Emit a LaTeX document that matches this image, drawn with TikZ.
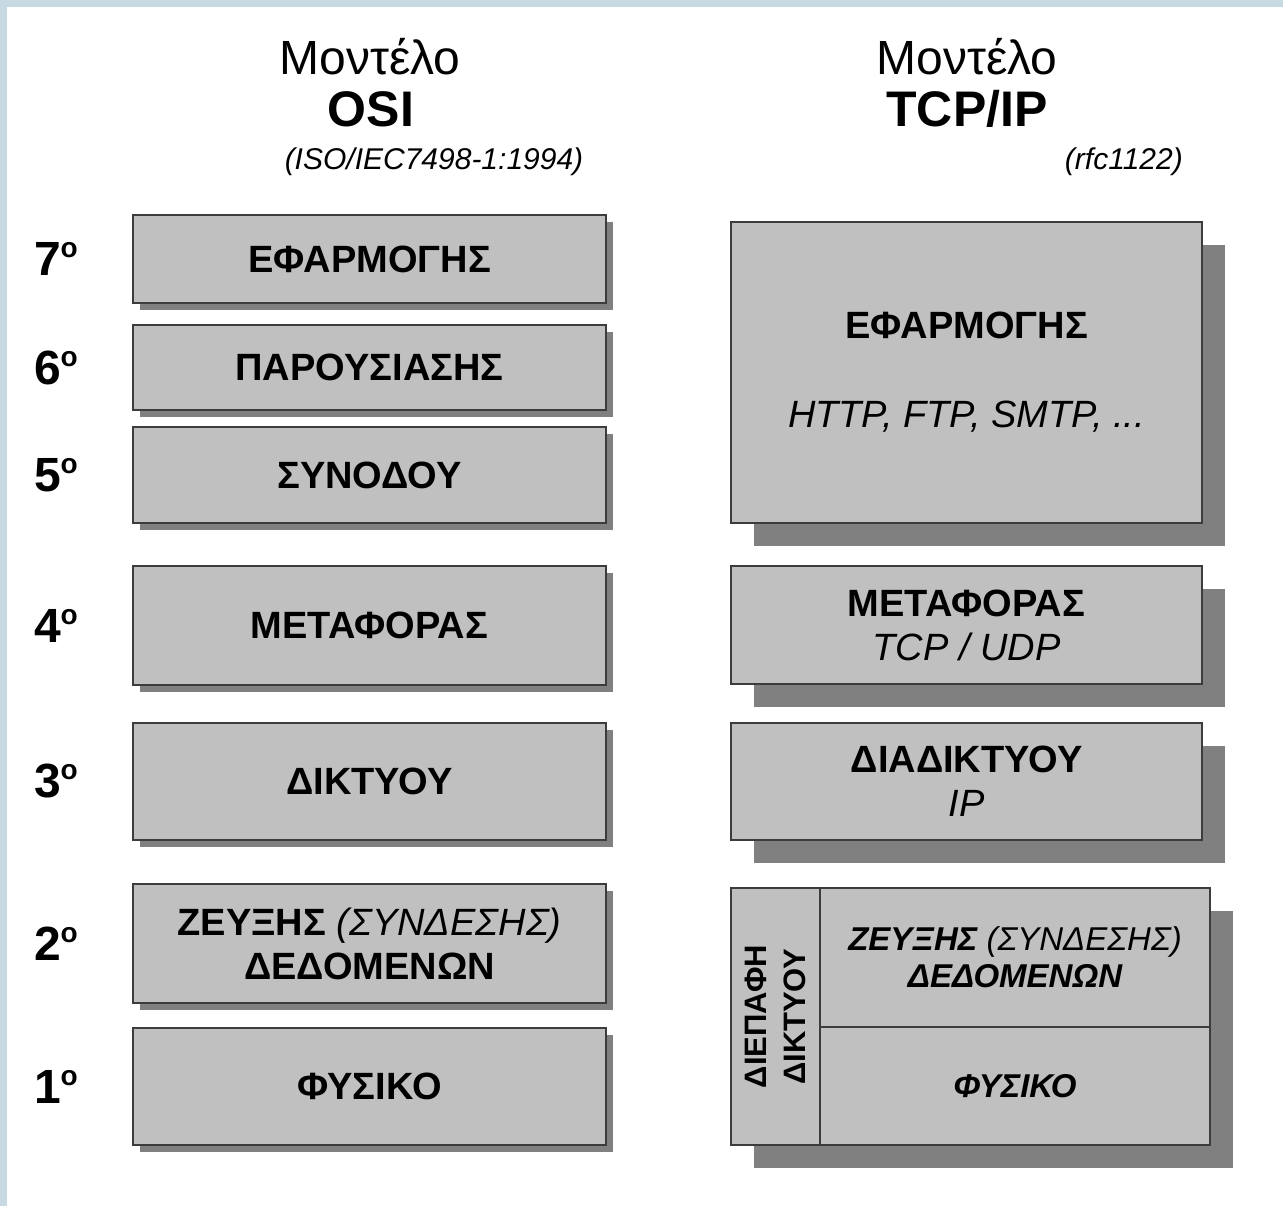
\documentclass[tikz,border=0pt]{standalone}
\usepackage{fontspec}
\setmainfont{Liberation Sans}
\usetikzlibrary{positioning,shadows}

\definecolor{frameblue}{HTML}{C8DAE1}
\definecolor{boxgray}{HTML}{C0C0C0}
\definecolor{shadowgray}{HTML}{808080}
\definecolor{edgegray}{HTML}{3C3C3C}

\newcommand{\ordo}{\raisebox{18pt}{\fontsize{28}{28}\selectfont o}}

\begin{document}
\begin{tikzpicture}[x=1pt, y=1pt,
            layer/.style   = {rectangle, draw=edgegray, line width=1.8pt, fill=boxgray,
                              inner sep=0pt, outer sep=0pt, align=center},
            osi/.style     = {layer, minimum width=473pt,
                              font=\bfseries\fontsize{38}{44}\selectfont,
                              drop shadow={shadow xshift=7pt, shadow yshift=-7pt,
                                           fill=shadowgray, opacity=1}},
            tcp/.style     = {layer, minimum width=471pt,
                              font=\bfseries\fontsize{38}{44}\selectfont,
                              drop shadow={shadow xshift=23pt, shadow yshift=-23pt,
                                           fill=shadowgray, opacity=1}},
            cell/.style    = {layer, font=\bfseries\itshape\fontsize{33}{37}\selectfont},
            num/.style     = {font=\bfseries\fontsize{48}{48}\selectfont, inner sep=0pt},
            hdrword/.style = {font=\fontsize{48}{50}\selectfont, inner sep=0pt, anchor=base},
            hdrname/.style = {font=\bfseries\fontsize{50}{50}\selectfont, inner sep=0pt, anchor=base},
            hdrref/.style  = {font=\itshape\fontsize{30}{30}\selectfont, inner sep=0pt, anchor=base}
                                 ]
            \useasboundingbox (0,0) rectangle (1283,-1206);
            \fill[white] (0,0) rectangle (1283,-1206);
            \fill[frameblue] (0,0) rectangle (1283,-7);
            \fill[frameblue] (0,0) rectangle (7,-1206);
            %
            \node[hdrword] (OSIm) at (370,-75)  {Μοντέλο};
            \node[hdrname] (OSIn) at (371,-127) {OSI};
            \node[hdrref]  (OSIr) at (434,-170) {(ISO/IEC7498-1:1994)};
            \node[hdrword] (TCPm) at (967,-75)  {Μοντέλο};
            \node[hdrname] (TCPn) at (967,-127) {TCP/IP};
            \node[hdrref, anchor=base east] (TCPr) at (1183,-170) {(rfc1122)};
            %
            \node[osi, minimum height=88pt, anchor=north west] (L7) at (133,-215) {ΕΦΑΡΜΟΓΗΣ};
            \node[osi, minimum height=85pt,  below=22pt of L7] (L6) {ΠΑΡΟΥΣΙΑΣΗΣ};
            \node[osi, minimum height=96pt,  below=17pt of L6] (L5) {ΣΥΝΟΔΟΥ};
            \node[osi, minimum height=119pt, below=43pt of L5] (L4) {ΜΕΤΑΦΟΡΑΣ};
            \node[osi, minimum height=117pt, below=38pt of L4] (L3) {ΔΙΚΤΥΟΥ};
            \node[osi, minimum height=119pt, below=44pt of L3] (L2)
                 {ΖΕΥΞΗΣ {\mdseries\itshape (ΣΥΝΔΕΣΗΣ)}\\ΔΕΔΟΜΕΝΩΝ};
            \node[osi, minimum height=117pt, below=25pt of L2] (L1) {ΦΥΣΙΚΟ};
            \foreach \n in {1,...,7}
                \node[num, left=55pt of L\n] (N\n) {\n\ordo};
            %
            \node[tcp, minimum height=301pt, anchor=north west] (APP) at (731,-222)
                 {ΕΦΑΡΜΟΓΗΣ\\[45pt]{\mdseries\itshape HTTP, FTP, SMTP, ...}};
            \node[tcp, minimum height=118pt, below=43pt of APP] (TRN)
                 {ΜΕΤΑΦΟΡΑΣ\\{\mdseries\itshape TCP / UDP}};
            \node[tcp, minimum height=117pt, below=39pt of TRN] (NET)
                 {ΔΙΑΔΙΚΤΥΟΥ\\{\mdseries\itshape IP}};
            \node[tcp, minimum width=479pt, minimum height=257pt, anchor=north west] (NIF)
                 at (731,-888) {};
            \node[cell, minimum width=89pt, minimum height=257pt, anchor=north west] (NIL)
                 at (NIF.north west) {};
            \node[rotate=90, align=center, inner sep=0pt,
                  font=\bfseries\fontsize{31}{39}\selectfont] (NIT) at (NIL.center)
                 {ΔΙΕΠΑΦΗ\\ΔΙΚΤΥΟΥ};
            \node[cell, minimum width=390pt, minimum height=139pt, anchor=north west] (DLK)
                 at (NIL.north east) {ΖΕΥΞΗΣ {\mdseries (ΣΥΝΔΕΣΗΣ)}\\ΔΕΔΟΜΕΝΩΝ};
            \node[cell, minimum width=390pt, minimum height=118pt, anchor=north west] (PHY)
                 at (DLK.south west) {ΦΥΣΙΚΟ};
    \end{tikzpicture}
\end{document}
